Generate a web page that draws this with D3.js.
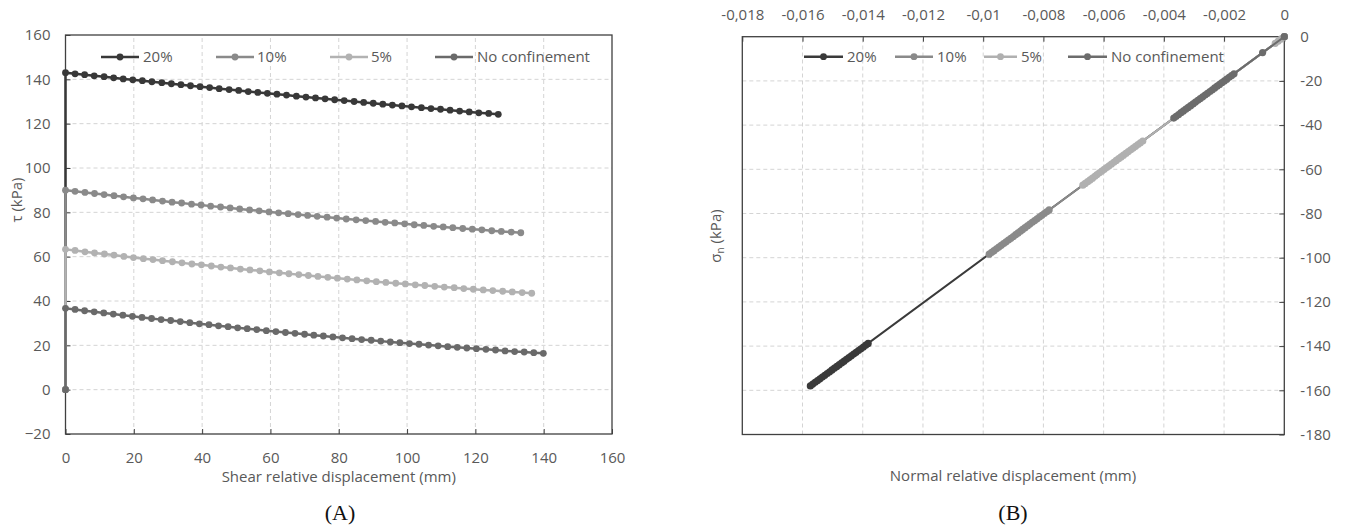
<!DOCTYPE html>
<html><head><meta charset="utf-8">
<script src="https://cdn.jsdelivr.net/npm/d3@7"></script>
<style>
body{margin:0;background:#fff}
text{font-family:"Open Sans",sans-serif;fill:#595959}
</style>
</head><body>
<svg id="c" width="1346" height="532"></svg>
<script>
// ---------- DATA ----------
const seriesNames = ["20%", "10%", "5%", "No confinement"];
const seriesColorsA = ["#383838", "#8a8a8a", "#b2b2b2", "#6a6a6a"];
const seriesColorsB = ["#3a3a3a", "#8a8a8a", "#b0b0b0", "#6c6c6c"];

// (A) shear relative displacement (mm) and shear stress tau (kPa)
const shearX20 = [0,0,2.8,5.6,8.4,11.3,14.1,16.9,19.7,22.5,25.3,28.2,31.0,33.8,36.6,39.4,42.2,45.0,47.9,50.7,53.5,56.3,59.1,61.9,64.7,67.6,70.4,73.2,76.0,78.8,81.6,84.5,87.3,90.1,92.9,95.7,98.5,101.3,104.2,107.0,109.8,112.6,115.4,118.2,121.0,123.9,126.7];
const tau20 = [0,143.0,142.5,142.1,141.6,141.2,140.7,140.2,139.8,139.4,138.9,138.5,138.0,137.6,137.1,136.7,136.3,135.8,135.4,135.0,134.5,134.1,133.7,133.3,132.9,132.4,132.0,131.6,131.2,130.8,130.4,130.0,129.6,129.2,128.8,128.4,128.0,127.6,127.2,126.8,126.5,126.1,125.7,125.3,124.9,124.6,124.2];

const shearX10 = [0,0,2.8,5.7,8.5,11.3,14.2,17.0,19.9,22.7,25.5,28.4,31.2,34.0,36.9,39.7,42.5,45.4,48.2,51.0,53.9,56.7,59.6,62.4,65.2,68.1,70.9,73.7,76.6,79.4,82.2,85.1,87.9,90.8,93.6,96.4,99.3,102.1,104.9,107.8,110.6,113.4,116.3,119.1,121.9,124.8,127.6,130.5,133.3];
const tau10 = [0,90.0,89.5,89.0,88.5,88.0,87.5,87.0,86.5,86.1,85.6,85.1,84.6,84.2,83.7,83.3,82.8,82.4,82.0,81.5,81.1,80.7,80.2,79.8,79.4,79.0,78.6,78.2,77.8,77.4,77.0,76.6,76.3,75.9,75.5,75.2,74.8,74.4,74.1,73.7,73.4,73.1,72.7,72.4,72.1,71.7,71.4,71.1,70.8];

const shearX5 = [0,0,2.8,5.7,8.5,11.4,14.2,17.1,19.9,22.8,25.6,28.4,31.3,34.1,37.0,39.8,42.7,45.5,48.3,51.2,54.0,56.9,59.7,62.6,65.4,68.3,71.1,73.9,76.8,79.6,82.5,85.3,88.2,91.0,93.8,96.7,99.5,102.4,105.2,108.1,110.9,113.8,116.6,119.4,122.3,125.1,128.0,130.8,133.7,136.5];
const tau5 = [0,63.3,62.8,62.2,61.7,61.2,60.7,60.1,59.6,59.1,58.7,58.2,57.7,57.2,56.7,56.3,55.8,55.3,54.9,54.4,54.0,53.6,53.1,52.7,52.3,51.9,51.5,51.1,50.7,50.3,49.9,49.5,49.1,48.7,48.4,48.0,47.7,47.3,47.0,46.6,46.3,46.0,45.6,45.3,45.0,44.7,44.4,44.1,43.8,43.5];

const shearXNC = [0,0,2.8,5.6,8.4,11.2,14.0,16.8,19.6,22.4,25.2,28.0,30.8,33.6,36.4,39.2,42.0,44.8,47.6,50.4,53.2,56.0,58.8,61.6,64.4,67.2,70.0,72.7,75.5,78.3,81.1,83.9,86.7,89.5,92.3,95.1,97.9,100.7,103.5,106.3,109.1,111.9,114.7,117.5,120.3,123.1,125.9,128.7,131.5,134.3,137.1,139.9];
const tauNC = [0,36.7,36.2,35.6,35.1,34.6,34.1,33.6,33.1,32.6,32.1,31.6,31.2,30.7,30.2,29.7,29.3,28.8,28.4,27.9,27.5,27.1,26.6,26.2,25.8,25.4,25.0,24.6,24.2,23.8,23.4,23.0,22.6,22.3,21.9,21.5,21.2,20.8,20.5,20.1,19.8,19.4,19.1,18.8,18.5,18.2,17.9,17.5,17.2,17.0,16.7,16.4];

// (B) normal relative displacement (mm) and normal stress sigma_n (kPa)
const normX20 = [0,-0.01574,-0.01566,-0.01558,-0.01550,-0.01542,-0.01534,-0.01526,-0.01518,-0.01510,-0.01502,-0.01494,-0.01486,-0.01478,-0.01470,-0.01462,-0.01454,-0.01446,-0.01438,-0.01430,-0.01422,-0.01414,-0.01406,-0.01398,-0.01390,-0.01382];
const sigma20 = [0,-158.0,-157.2,-156.4,-155.6,-154.8,-154.0,-153.2,-152.4,-151.6,-150.8,-150.0,-149.2,-148.4,-147.6,-146.8,-146.0,-145.2,-144.4,-143.6,-142.8,-142.0,-141.2,-140.4,-139.6,-138.8];

const normX10 = [0,-0.00980,-0.00972,-0.00964,-0.00956,-0.00948,-0.00940,-0.00932,-0.00924,-0.00916,-0.00908,-0.00900,-0.00892,-0.00884,-0.00876,-0.00869,-0.00861,-0.00853,-0.00845,-0.00837,-0.00829,-0.00821,-0.00813,-0.00805,-0.00797,-0.00789,-0.00781];
const sigma10 = [0,-98.4,-97.6,-96.8,-96.0,-95.2,-94.4,-93.6,-92.8,-92.0,-91.2,-90.4,-89.6,-88.8,-88.0,-87.2,-86.4,-85.6,-84.8,-84.0,-83.2,-82.4,-81.6,-80.8,-80.0,-79.2,-78.4];

const normX5 = [0,-0.0001,-0.0002,-0.0003,-0.00669,-0.00661,-0.00653,-0.00645,-0.00637,-0.00629,-0.00622,-0.00614,-0.00606,-0.00598,-0.00590,-0.00582,-0.00574,-0.00566,-0.00558,-0.00550,-0.00542,-0.00534,-0.00526,-0.00518,-0.00510,-0.00502,-0.00494,-0.00486,-0.00478,-0.00470];
const sigma5 = [0,-1.0,-2.0,-3.0,-67.2,-66.4,-65.6,-64.8,-64.0,-63.2,-62.4,-61.6,-60.8,-60.0,-59.2,-58.4,-57.6,-56.8,-56.0,-55.2,-54.4,-53.6,-52.8,-52.0,-51.2,-50.4,-49.6,-48.8,-48.0,-47.2];

const normXNC = [0,-0.00072,-0.00367,-0.00359,-0.00351,-0.00343,-0.00335,-0.00327,-0.00319,-0.00311,-0.00303,-0.00295,-0.00287,-0.00279,-0.00271,-0.00263,-0.00255,-0.00247,-0.00239,-0.00231,-0.00223,-0.00215,-0.00207,-0.00199,-0.00191,-0.00183,-0.00175,-0.00167];
const sigmaNC = [0,-7.2,-36.8,-36.0,-35.2,-34.4,-33.6,-32.8,-32.0,-31.2,-30.4,-29.6,-28.8,-28.0,-27.2,-26.4,-25.6,-24.8,-24.0,-23.2,-22.4,-21.6,-20.8,-20.0,-19.2,-18.4,-17.6,-16.8];

const ticksAx = [0,20,40,60,80,100,120,140,160];
const ticksAy = [-20,0,20,40,60,80,100,120,140,160];
const ticksBx = [-0.018,-0.016,-0.014,-0.012,-0.01,-0.008,-0.006,-0.004,-0.002,0];
const ticksBy = [0,-20,-40,-60,-80,-100,-120,-140,-160,-180];

// ---------- DRAW ----------
const svg = d3.select("#c");
const FS = 15;
const axisCol = "#404040", gridCol = "#d4d4d4";

function zip(xs, ys){ return xs.map((x,i)=>[x, ys[i]]); }

// ===== Chart A =====
const xA = d3.scaleLinear().domain([0,160]).range([65.5,612]);
const yA = d3.scaleLinear().domain([-20,160]).range([434,35]);
const gA = svg.append("g");

// grid
gA.append("g").selectAll("line").data(ticksAx.slice(1,-1)).join("line")
  .attr("x1",d=>xA(d)).attr("x2",d=>xA(d)).attr("y1",yA(-20)).attr("y2",yA(160))
  .attr("stroke",gridCol).attr("stroke-dasharray","4,3");
gA.append("g").selectAll("line").data(ticksAy.slice(1,-1)).join("line")
  .attr("y1",d=>yA(d)).attr("y2",d=>yA(d)).attr("x1",xA(0)).attr("x2",xA(160))
  .attr("stroke",gridCol).attr("stroke-dasharray","4,3");

// border
gA.append("rect").attr("x",xA(0)).attr("y",yA(160)).attr("width",xA(160)-xA(0)).attr("height",yA(-20)-yA(160))
  .attr("fill","none").attr("stroke",axisCol).attr("stroke-width",1.3);

// axes
const axA_b = gA.append("g").attr("transform",`translate(0,${yA(-20)})`)
  .call(d3.axisBottom(xA).tickValues(ticksAx).tickSize(-5).tickPadding(18).tickFormat(d3.format("d")));
const axA_l = gA.append("g").attr("transform",`translate(${xA(0)},0)`)
  .call(d3.axisLeft(yA).tickValues(ticksAy).tickSize(-5).tickPadding(15).tickFormat(d3.format("d")));
[axA_b, axA_l].forEach(a=>{
  a.select(".domain").remove();
  a.selectAll("line").attr("stroke",axisCol);
  a.selectAll("text").attr("font-size",FS).attr("font-family","Open Sans").attr("fill","#595959");
});

// series A
const seriesA = [zip(shearX20,tau20), zip(shearX10,tau10), zip(shearX5,tau5), zip(shearXNC,tauNC)];
const lineA = d3.line().x(d=>xA(d[0])).y(d=>yA(d[1]));
seriesA.forEach((s,i)=>{
  const g = gA.append("g");
  g.append("path").attr("d",lineA(s)).attr("fill","none").attr("stroke",seriesColorsA[i]).attr("stroke-width",2.5);
  g.selectAll("circle").data(s).join("circle").attr("cx",d=>xA(d[0])).attr("cy",d=>yA(d[1])).attr("r",3.4).attr("fill",seriesColorsA[i]);
});

// legend A
const legA = [[101,139,143],[216,254,257],[330,368,371],[435,473,477]];
legA.forEach((p,i)=>{
  const y = 57;
  gA.append("line").attr("x1",p[0]).attr("x2",p[1]).attr("y1",y).attr("y2",y).attr("stroke",seriesColorsA[i]).attr("stroke-width",2.5);
  gA.append("circle").attr("cx",(p[0]+p[1])/2).attr("cy",y).attr("r",3.4).attr("fill",seriesColorsA[i]);
  gA.append("text").attr("x",p[2]).attr("y",y).attr("dy","0.35em").attr("font-size",FS).text(seriesNames[i]);
});

// titles A
gA.append("text").attr("x",(xA(0)+xA(160))/2).attr("y",477).attr("dy","0.35em").attr("text-anchor","middle").attr("font-size",FS)
  .text("Shear relative displacement (mm)");
gA.append("text").attr("transform","translate(17,200) rotate(-90)").attr("dy","0.35em").attr("text-anchor","middle").attr("font-size",FS)
  .text("τ (kPa)");
gA.append("text").attr("x",340).attr("y",512).attr("dy","0.35em").attr("text-anchor","middle")
  .attr("font-size",22).attr("font-family","Liberation Serif, serif").style("font-family","'Liberation Serif', serif").attr("fill","#111").style("fill","#111").text("(A)");

// ===== Chart B =====
const xB = d3.scaleLinear().domain([-0.018,0]).range([742.3,1284.3]);
const yB = d3.scaleLinear().domain([-180,0]).range([434.5,36.7]);
const gB = svg.append("g");

gB.append("g").selectAll("line").data(ticksBx.slice(1,-1)).join("line")
  .attr("x1",d=>xB(d)).attr("x2",d=>xB(d)).attr("y1",yB(-180)).attr("y2",yB(0))
  .attr("stroke",gridCol).attr("stroke-dasharray","4,3");
gB.append("g").selectAll("line").data(ticksBy.slice(1,-1)).join("line")
  .attr("y1",d=>yB(d)).attr("y2",d=>yB(d)).attr("x1",xB(-0.018)).attr("x2",xB(0))
  .attr("stroke",gridCol).attr("stroke-dasharray","4,3");

gB.append("rect").attr("x",xB(-0.018)).attr("y",yB(0)).attr("width",xB(0)-xB(-0.018)).attr("height",yB(-180)-yB(0))
  .attr("fill","none").attr("stroke",axisCol).attr("stroke-width",1.3);

const fmtB = d => d === 0 ? "0" : String(+d.toFixed(3)).replace(".", ",");
const axB_t = gB.append("g").attr("transform",`translate(0,${yB(0)})`)
  .call(d3.axisTop(xB).tickValues(ticksBx).tickSize(-5).tickPadding(17).tickFormat(fmtB));
const axB_r = gB.append("g").attr("transform",`translate(${xB(0)},0)`)
  .call(d3.axisRight(yB).tickValues(ticksBy).tickSize(-5).tickPadding(16).tickFormat(d3.format("d")));
[axB_t, axB_r].forEach(a=>{
  a.select(".domain").remove();
  a.selectAll("line").attr("stroke",axisCol);
  a.selectAll("text").attr("font-size",FS).attr("font-family","Open Sans").attr("fill","#595959");
});
axB_r.selectAll("text").text(d=>String(d).replace("-", "-"));

const seriesB = [zip(normX20,sigma20), zip(normX10,sigma10), zip(normX5,sigma5), zip(normXNC,sigmaNC)];
const lineB = d3.line().x(d=>xB(d[0])).y(d=>yB(d[1]));
seriesB.forEach((s,i)=>{
  const g = gB.append("g");
  g.append("path").attr("d",lineB(s)).attr("fill","none").attr("stroke",seriesColorsB[i]).attr("stroke-width",2);
  g.selectAll("circle").data(s).join("circle").attr("cx",d=>xB(d[0])).attr("cy",d=>yB(d[1])).attr("r",3.6).attr("fill",seriesColorsB[i]);
});

const legB = [[804,843,847],[895,933,937],[984,1017,1021],[1068,1107,1111]];
legB.forEach((p,i)=>{
  const y = 56.7;
  gB.append("line").attr("x1",p[0]).attr("x2",p[1]).attr("y1",y).attr("y2",y).attr("stroke",seriesColorsB[i]).attr("stroke-width",2.5);
  gB.append("circle").attr("cx",(p[0]+p[1])/2).attr("cy",y).attr("r",3.4).attr("fill",seriesColorsB[i]);
  gB.append("text").attr("x",p[2]).attr("y",y).attr("dy","0.35em").attr("font-size",FS).text(seriesNames[i]);
});

gB.append("text").attr("x",1013).attr("y",476).attr("dy","0.35em").attr("text-anchor","middle").attr("font-size",FS)
  .text("Normal relative displacement (mm)");
const sy = gB.append("text").attr("transform","translate(716,236) rotate(-90)").attr("dy","0.35em").attr("text-anchor","middle").attr("font-size",FS);
sy.append("tspan").text("σ");
sy.append("tspan").attr("font-size",10).attr("dy",3).text("n");
sy.append("tspan").attr("dy",-3).text(" (kPa)");
gB.append("text").attr("x",1013).attr("y",512).attr("dy","0.35em").attr("text-anchor","middle")
  .attr("font-size",22).style("font-family","'Liberation Serif', serif").style("fill","#111").text("(B)");
</script>
</body></html>
